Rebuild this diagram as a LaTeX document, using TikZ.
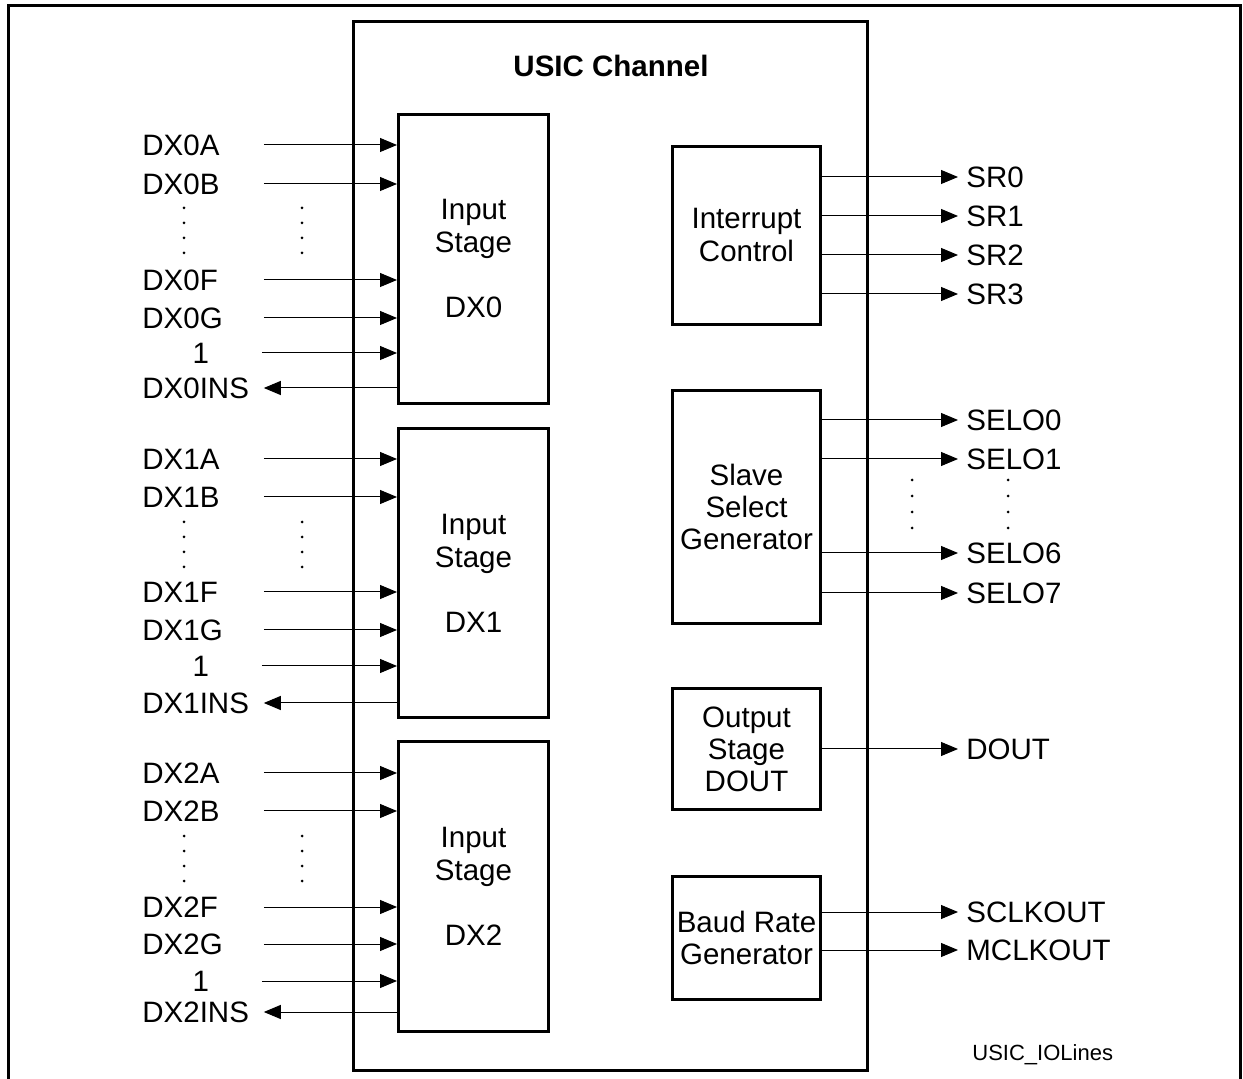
\documentclass[tikz,border=0pt]{standalone}
\usepackage{fontspec}
\setmainfont{Liberation Sans}
\usetikzlibrary{arrows.meta,positioning}

\begin{document}
\begin{tikzpicture}[x=0.5pt,y=-0.5pt,
    font=\fontsize{14.75}{16}\selectfont,
    frameline/.style={line width=1.5pt},
    block/.style={draw=black,line width=1.5pt,align=center,inner sep=0pt},
    stagebox/.style={block,minimum width=75pt,minimum height=144.5pt,
                     font=\fontsize{14.75}{16.5}\selectfont},
    unitbox/.style={block,minimum width=74pt},
    sig/.style={line width=0.5pt,-{Triangle[length=8.5pt,width=7pt]}},
    inlbl/.style={anchor=west,inner sep=0pt,text width=60.5pt,align=left},
    outlbl/.style={anchor=west,inner xsep=4pt,inner ysep=0pt},
    dotcol/.style={fill=black}]
  \useasboundingbox (0,0) rectangle (1243,1079);
  \draw[frameline] (8,1082) |- (1240,6) -- (1240,1082);
  \node[block,minimum width=257pt,minimum height=524.5pt] (chan) at (610.5,546) {};
  \node[font=\fontsize{14.75}{16}\selectfont\bfseries] (title) at (611,66) {USIC Channel};

  \node[stagebox] (dx0) at (473.5,259) {Input\\Stage\\[16pt]DX0};
  \node[stagebox] (dx1) at (473.5,573) {Input\\Stage\\[16pt]DX1};
  \node[stagebox] (dx2) at (473.5,886.5) {Input\\Stage\\[16pt]DX2};

  \node[unitbox,minimum height=89pt,font=\fontsize{14.75}{16.5}\selectfont] (irq) at (746.5,235.5) {Interrupt\\Control};
  \node[unitbox,minimum height=116.5pt] (ssg) at (746.5,507) {Slave\\Select\\Generator};
  \node[unitbox,minimum height=60.5pt] (osd) at (746.5,749) {Output\\Stage\\DOUT};
  \node[unitbox,minimum height=61.5pt] (brg) at (746.5,938) {Baud Rate\\Generator};

  \node[inlbl] (dx0a) at (142,145) {DX0A};
  \node[inlbl] (dx0b) at (142,184) {DX0B};
  \node[inlbl] (dx0f) at (142,280) {DX0F};
  \node[inlbl] (dx0g) at (142,318) {DX0G};
  \node[inlbl,align=center] (dx0one) at (140,353) {1};
  \node[inlbl] (dx0ins) at (142,388) {DX0INS};
  \draw[sig] (dx0a.east) -- (dx0.west |- dx0a.east);
  \draw[sig] (dx0b.east) -- (dx0.west |- dx0b.east);
  \draw[sig] (dx0f.east) -- (dx0.west |- dx0f.east);
  \draw[sig] (dx0g.east) -- (dx0.west |- dx0g.east);
  \draw[sig] (dx0one.east) -- (dx0.west |- dx0one.east);
  \draw[sig] (dx0.west |- dx0ins.east) -- (dx0ins.east);

  \node[inlbl] (dx1a) at (142,459) {DX1A};
  \node[inlbl] (dx1b) at (142,497) {DX1B};
  \node[inlbl] (dx1f) at (142,592) {DX1F};
  \node[inlbl] (dx1g) at (142,630) {DX1G};
  \node[inlbl,align=center] (dx1one) at (140,666) {1};
  \node[inlbl] (dx1ins) at (142,703) {DX1INS};
  \draw[sig] (dx1a.east) -- (dx1.west |- dx1a.east);
  \draw[sig] (dx1b.east) -- (dx1.west |- dx1b.east);
  \draw[sig] (dx1f.east) -- (dx1.west |- dx1f.east);
  \draw[sig] (dx1g.east) -- (dx1.west |- dx1g.east);
  \draw[sig] (dx1one.east) -- (dx1.west |- dx1one.east);
  \draw[sig] (dx1.west |- dx1ins.east) -- (dx1ins.east);

  \node[inlbl] (dx2a) at (142,773) {DX2A};
  \node[inlbl] (dx2b) at (142,811) {DX2B};
  \node[inlbl] (dx2f) at (142,907) {DX2F};
  \node[inlbl] (dx2g) at (142,944) {DX2G};
  \node[inlbl,align=center] (dx2one) at (140,981) {1};
  \node[inlbl] (dx2ins) at (142,1012) {DX2INS};
  \draw[sig] (dx2a.east) -- (dx2.west |- dx2a.east);
  \draw[sig] (dx2b.east) -- (dx2.west |- dx2b.east);
  \draw[sig] (dx2f.east) -- (dx2.west |- dx2f.east);
  \draw[sig] (dx2g.east) -- (dx2.west |- dx2g.east);
  \draw[sig] (dx2one.east) -- (dx2.west |- dx2one.east);
  \draw[sig] (dx2.west |- dx2ins.east) -- (dx2ins.east);

  \fill[dotcol] (184,208) circle[radius=1.5] (184,223) circle[radius=1.5]
                (184,238) circle[radius=1.5] (184,253) circle[radius=1.5];
  \fill[dotcol] (302,208) circle[radius=1.5] (302,223) circle[radius=1.5]
                (302,238) circle[radius=1.5] (302,253) circle[radius=1.5];
  \fill[dotcol] (184,522) circle[radius=1.5] (184,537) circle[radius=1.5]
                (184,552) circle[radius=1.5] (184,567) circle[radius=1.5];
  \fill[dotcol] (302,522) circle[radius=1.5] (302,537) circle[radius=1.5]
                (302,552) circle[radius=1.5] (302,567) circle[radius=1.5];
  \fill[dotcol] (184,836) circle[radius=1.5] (184,851) circle[radius=1.5]
                (184,866) circle[radius=1.5] (184,881) circle[radius=1.5];
  \fill[dotcol] (302,836) circle[radius=1.5] (302,851) circle[radius=1.5]
                (302,866) circle[radius=1.5] (302,881) circle[radius=1.5];

  \node[outlbl] (sr0) at (958,177) {SR0};
  \node[outlbl] (sr1) at (958,216) {SR1};
  \node[outlbl] (sr2) at (958,255) {SR2};
  \node[outlbl] (sr3) at (958,294) {SR3};
  \draw[sig] (irq.east |- sr0.west) -- (sr0.west);
  \draw[sig] (irq.east |- sr1.west) -- (sr1.west);
  \draw[sig] (irq.east |- sr2.west) -- (sr2.west);
  \draw[sig] (irq.east |- sr3.west) -- (sr3.west);

  \node[outlbl] (selo0) at (958,420) {SELO0};
  \node[outlbl] (selo1) at (958,459) {SELO1};
  \node[outlbl] (selo6) at (958,553) {SELO6};
  \node[outlbl] (selo7) at (958,593) {SELO7};
  \draw[sig] (ssg.east |- selo0.west) -- (selo0.west);
  \draw[sig] (ssg.east |- selo1.west) -- (selo1.west);
  \draw[sig] (ssg.east |- selo6.west) -- (selo6.west);
  \draw[sig] (ssg.east |- selo7.west) -- (selo7.west);
  \fill[dotcol] (912,480) circle[radius=1.5] (912,496) circle[radius=1.5]
                (912,512) circle[radius=1.5] (912,528) circle[radius=1.5];
  \fill[dotcol] (1008,480) circle[radius=1.5] (1008,496) circle[radius=1.5]
                (1008,512) circle[radius=1.5] (1008,528) circle[radius=1.5];

  \node[outlbl] (dout) at (958,749) {DOUT};
  \draw[sig] (osd.east |- dout.west) -- (dout.west);

  \node[outlbl] (sclk) at (958,912) {SCLKOUT};
  \node[outlbl] (mclk) at (958,950) {MCLKOUT};
  \draw[sig] (brg.east |- sclk.west) -- (sclk.west);
  \draw[sig] (brg.east |- mclk.west) -- (mclk.west);

  \node[anchor=west,inner sep=0pt,font=\fontsize{11}{13}\selectfont] (figid) at (972,1055) {USIC\_IOLines};
\end{tikzpicture}
\end{document}
